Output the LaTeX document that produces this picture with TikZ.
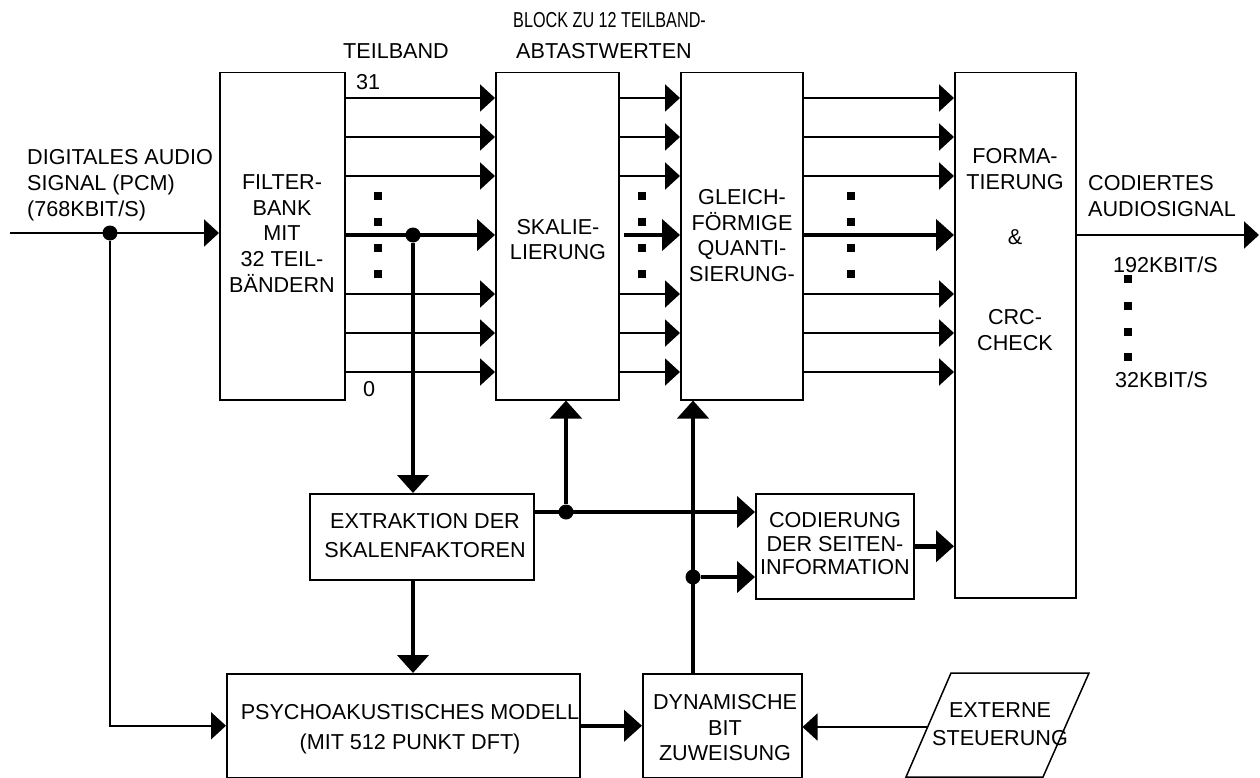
\documentclass[tikz,border=0pt]{standalone}
\usepackage{fontspec}
\usepackage{graphicx}
\setmainfont{Liberation Sans}
\usetikzlibrary{arrows.meta}
\begin{document}
\begin{tikzpicture}[x=1pt,y=-1pt,
  box/.style={draw, line width=1.5pt, inner sep=0pt, anchor=north west},
  txt/.style={inner sep=0pt, align=center, text depth=0pt, font=\fontsize{21.6}{#1}\selectfont},
  txt/.default=26,
  ltxt/.style={txt=#1, align=left, anchor=west},
  ltxt/.default=26,
  ln/.style={line width=2pt, -{Triangle[length=15pt,width=27pt]}},
  bus/.style={line width=4.5pt, -{Triangle[length=18pt,width=31pt]}},
  jdot/.style={circle, fill, minimum size=15pt, inner sep=0pt},
  sq/.style={rectangle, fill, minimum size=7.5pt, inner sep=0pt},
  pbox/.style={draw, line width=1.5pt}]
\useasboundingbox (0,0) rectangle (1260,778);

% boxes
\node[box, minimum width=125pt, minimum height=327pt] (fb) at (219,72) {};
\node[box, minimum width=123pt, minimum height=327pt] (sk) at (495,72) {};
\node[box, minimum width=122pt, minimum height=327pt] (gq) at (680,72) {};
\node[box, minimum width=121pt, minimum height=525pt] (fm) at (954,72) {};
\node[box, minimum width=224pt, minimum height=86pt] (ex) at (309,493) {};
\node[box, minimum width=158pt, minimum height=105pt] (cs) at (755,493) {};
\node[box, minimum width=353pt, minimum height=104pt] (ps) at (226,673) {};
\node[box, minimum width=159pt, minimum height=104pt] (dy) at (642,673) {};
\draw[pbox] (906,777) -- (951,673) -- (1089,673) -- (1043,777) -- cycle;

% box texts
\node[txt=25.75] (fbt) at (282,233.5) {FILTER-\\BANK\\MIT\\32 TEIL-\\BÄNDERN};
\node[txt=25] (skt) at (558,239.5) {SKALIE-\\LIERUNG};
\node[txt=25.7] (gqt) at (742,235.5) {GLEICH-\\FÖRMIGE\\QUANTI-\\SIERUNG-};
\node[txt=26] (fmt) at (1015,249) {FORMA-\\TIERUNG\\[29pt]\&\\[54pt]CRC-\\CHECK};
\node[txt=29] (ext) at (425,535.5) {EXTRAKTION DER\\SKALENFAKTOREN};
\node[txt=23.5] (cst) at (835,543.5) {CODIERUNG\\DER SEITEN-\\INFORMATION};
\node[txt=30] (pst) at (410,727) {PSYCHOAKUSTISCHES MODELL\\(MIT 512 PUNKT DFT)};
\node[txt=25.5] (dyt) at (725,727.5) {DYNAMISCHE\\BIT\hspace*{19pt}\\ZUWEISUNG};
\node[txt=28] (extt) at (1000,724) {EXTERNE\\STEUERUNG};

% free labels
\node[ltxt] (teil) at (343,51) {TEILBAND};
\node[ltxt] (n31) at (356,82) {31};
\node[ltxt] (n0) at (363,389) {0};
\node[ltxt] (blk1) at (513,20) {\scalebox{0.75}[1]{BLOCK ZU 12 TEILBAND-}};
\node[ltxt] (blk2) at (516,51) {ABTASTWERTEN};
\node[ltxt] (dig) at (27,183) {DIGITALES AUDIO\\SIGNAL (PCM)\\(768KBIT/S)};
\node[ltxt] (cod) at (1088,196) {CODIERTES\\AUDIOSIGNAL};
\node[ltxt] (k192) at (1113,265) {192KBIT/S};
\node[ltxt] (k32) at (1115,380) {32KBIT/S};

% row coordinates
\foreach \y [count=\i] in {98,137,176,294,333,372} \coordinate (r\i) at (0,\y);
\coordinate (rm) at (0,235);

% band arrows
\foreach \i in {1,...,6} {
  \draw[ln] (fb.east |- r\i) -- (sk.west |- r\i);
  \draw[ln] (sk.east |- r\i) -- (gq.west |- r\i);
  \draw[ln] (gq.east |- r\i) -- (fm.west |- r\i);
}
\draw[bus] (fb.east |- rm) -- (sk.west |- rm);
\draw[bus] ([xshift=4pt]sk.east |- rm) -- (gq.west |- rm);
\draw[bus] (gq.east |- rm) -- (fm.west |- rm);

% square dots
\foreach \y [count=\i] in {196,222,248,274} {
  \node[sq] (da\i) at (378,\y) {};
  \node[sq] (db\i) at (642,\y) {};
  \node[sq] (dc\i) at (851,\y) {};
}
\foreach \y [count=\i] in {279,306,332,357} \node[sq] (dd\i) at (1128,\y) {};

% input
\coordinate (in) at (10,233);
\node[jdot] (j0) at (110,233) {};
\draw[ln] (in) -- (fb.west |- in);
\draw[ln] (j0) |- (ps.west);

% scale factor path
\node[jdot] (j1) at (413,235) {};
\draw[bus] (j1) -- (j1 |- ex.north);
\draw[bus] (ex.south -| j1) -- (ps.north -| j1);
\node[jdot] (j2) at (566,512) {};
\draw[bus] (ex.east |- j2) -- (cs.west |- j2);
\draw[bus] (j2) -- (j2 |- sk.south);

% bit allocation path
\node[jdot] (j3) at (693,577) {};
\draw[bus] (j3 |- dy.north) -- (j3 |- gq.south);
\draw[bus] (j3) -- (cs.west |- j3);
\draw[bus] (cs.east) -- (cs.east -| fm.west);
\draw[bus] (ps.east) -- (dy.west);
\coordinate (extin) at (928,727);
\draw[ln] (extin) -- (dy.east |- extin);

% output
\coordinate (outend) at (1259,235);
\draw[ln] (fm.east |- outend) -- (outend);
\end{tikzpicture}
\end{document}
